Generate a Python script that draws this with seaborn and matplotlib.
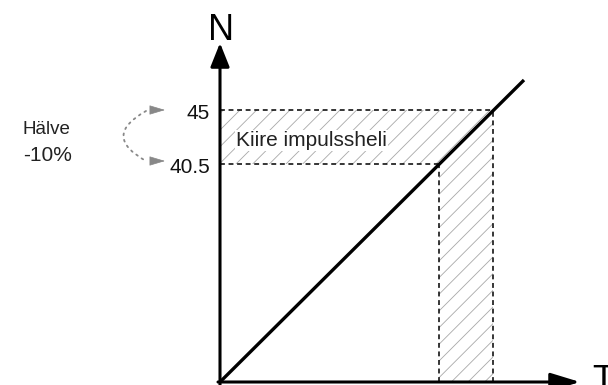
import matplotlib
matplotlib.use("Agg")
import matplotlib.pyplot as plt
from matplotlib.patches import Polygon, FancyArrowPatch
import seaborn as sns
import pandas as pd

# ---- data (schematic units) ----
line_t = [0, 304]          # T values of the straight line
line_n = [0, 302]          # N values of the straight line
level_labels = ["45", "40.5"]
level_pos = [272, 218]     # schematic heights of the two N levels
t_at_level = [273, 219]    # T where the line reaches each level
band_label = "Kiire impulssheli"
side_label = ["Hälve", "-10%"]

sns.set_style("white")
plt.rcParams['font.family'] = ['Liberation Sans', 'DejaVu Sans']
plt.rcParams['hatch.linewidth'] = 0.6

fig = plt.figure(figsize=(6.08, 3.85), dpi=100)
ax = fig.add_axes([0, 0, 1, 1])
ax.set_xlim(-220, 388)
ax.set_ylim(-3, 382)
ax.axis('off')

# hatched areas
top, low = level_pos
t_top, t_low = t_at_level
hatch_col = '#a8a8a8'
ax.add_patch(Polygon([(0, low), (0, top), (t_top, top), (t_low, low)],
                     closed=True, fill=False, hatch='//', lw=0,
                     edgecolor=hatch_col))
ax.add_patch(Polygon([(t_low, 0), (t_low, low), (t_top, top), (t_top, 0)],
                     closed=True, fill=False, hatch='//', lw=0,
                     edgecolor=hatch_col))

# dashed guide lines
dash = dict(color='black', lw=1.1, dashes=(3.2, 2.4))
ax.plot([0, t_top], [top, top], **dash)
ax.plot([0, t_low], [low, low], **dash)
ax.plot([t_top, t_top], [0, top], **dash)
ax.plot([t_low, t_low], [0, low], **dash)

# main line
df = pd.DataFrame({"T": line_t, "N": line_n})
sns.lineplot(data=df, x="T", y="N", ax=ax, color='black', lw=2.4,
             solid_capstyle='butt')

# axes with arrows
ax.annotate('', xy=(0, 339), xytext=(0, -3),
            arrowprops=dict(arrowstyle='-|>,head_length=1.45,head_width=0.58',
                            lw=2.2, color='black', shrinkA=0, shrinkB=0))
ax.annotate('', xy=(360, 0), xytext=(-2, 0),
            arrowprops=dict(arrowstyle='-|>,head_length=1.8,head_width=0.55',
                            lw=2.2, color='black', shrinkA=0, shrinkB=0))
ax.text(1, 342, "N", ha='center', va='baseline', fontsize=26, color='black')
ax.text(372, 18, "T", ha='left', va='top', fontsize=26, color='black')

# level labels
for lab, y in zip(level_labels, level_pos):
    ax.text(-10, y - 9, lab, ha='right', va='baseline', fontsize=15,
            color='#111111')

ax.text(16, 236, band_label, ha='left', va='baseline', fontsize=15,
        color='#222222',
        bbox=dict(facecolor='white', edgecolor='none', pad=0.5))

ax.text(-197, 248, side_label[0], ha='left', va='baseline', fontsize=13.5,
        color='#222222')
ax.text(-197, 221, side_label[1], ha='left', va='baseline', fontsize=15,
        color='#222222')

# curved dotted arrow (dotted arc + two solid heads)
grey = '#888888'
ax.add_patch(FancyArrowPatch((-74, top - 1), (-74, low + 3),
                             connectionstyle='arc3,rad=0.9',
                             arrowstyle='-', color=grey, lw=1.3,
                             linestyle=(0, (1.0, 2.6)),
                             shrinkA=0, shrinkB=0))
for yy in (top, low + 3):
    ax.add_patch(FancyArrowPatch((-69, yy), (-55, yy),
                                 arrowstyle='-|>,head_length=10,head_width=3',
                                 color=grey, lw=0.5,
                                 shrinkA=0, shrinkB=0))

fig.savefig("out.png", dpi=100)
